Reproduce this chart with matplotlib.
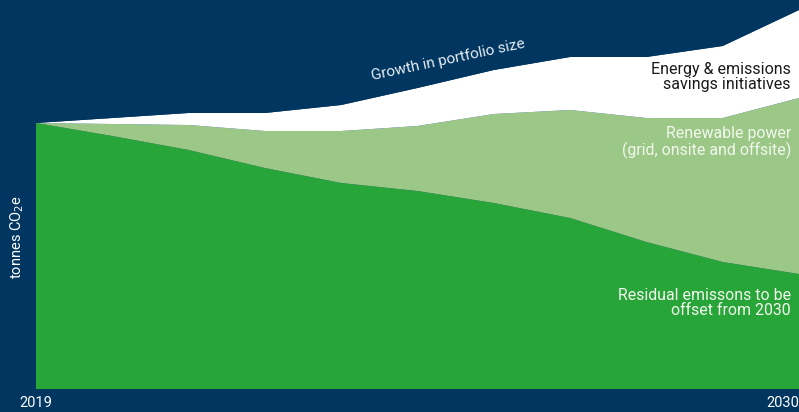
import numpy as np
import matplotlib
matplotlib.use('Agg')
import matplotlib.pyplot as plt

# Emissions pathway, arbitrary tonnes CO2e units
PERIODS = list(range(11))
TICK_LABELS = ['2019', '2030']
residual = [266, 253, 239, 221, 206, 198, 186, 171, 147, 127, 115]
renewable = [0, 12, 25, 37, 52, 65, 89, 108, 124, 144, 176]
savings = [0, 6, 12, 18, 26, 38, 44, 53, 61, 72, 88]
growth = [123, 118, 113, 113, 105, 88, 70, 57, 57, 46, 10]

NAVY = '#00365F'
GREEN = '#28A538'
LIGHT_GREEN = '#9BC886'

plt.rcParams['font.family'] = ['Roboto', 'DejaVu Sans']

fig = plt.figure(figsize=(7.99, 4.12), dpi=100, facecolor=NAVY)
ax = fig.add_axes([36 / 799, 23 / 412, 763 / 799, 389 / 412])
ax.set_facecolor(NAVY)

ax.stackplot(PERIODS, residual, renewable, savings, growth,
             colors=[GREEN, LIGHT_GREEN, 'white', NAVY], linewidth=0)

ax.set_xlim(PERIODS[0], PERIODS[-1])
ax.set_ylim(0, 389)
for s in ax.spines.values():
    s.set_visible(False)
ax.set_yticks([])
ax.set_xticks([PERIODS[0], PERIODS[-1]])
ax.set_xticklabels(TICK_LABELS, color='white', fontsize=10.5)
ax.tick_params(axis='x', length=0, pad=5)
lbls = ax.get_xticklabels()
lbls[0].set_ha('center')
lbls[-1].set_ha('right')

ax.text(0.54, 0.846, 'Growth in portfolio size', transform=ax.transAxes,
        rotation=12, ha='center', va='center', color='#E6ECF2', fontsize=11,
        rotation_mode='anchor')
ax.text(0.9895, 0.802, 'Energy & emissions\nsavings initiatives',
        transform=ax.transAxes, ha='right', va='center', color='#1a1a1a',
        fontsize=11.5, linespacing=1.0)
ax.text(0.9895, 0.634, 'Renewable power\n(grid, onsite and offsite)',
        transform=ax.transAxes, ha='right', va='center', color='#F2F7EE',
        fontsize=11.4, linespacing=1.0)
ax.text(0.9895, 0.22, 'Residual emissons to be\noffset from 2030',
        transform=ax.transAxes, ha='right', va='center', color='#F2F7EE',
        fontsize=11.4, linespacing=1.0)

fig.text(0.021, 0.425, r'tonnes CO$_2$e', rotation=90, ha='center',
         va='center', color='white', fontsize=10.5)

fig.savefig('out.png', dpi=100, facecolor=NAVY)
